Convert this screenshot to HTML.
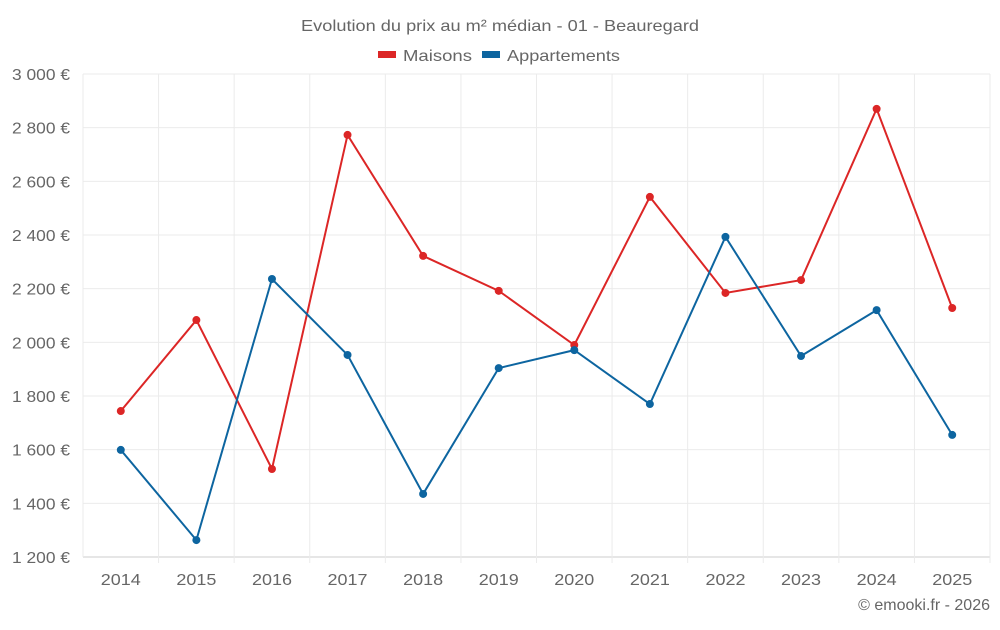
<!DOCTYPE html>
<html><head><meta charset="utf-8"><style>
body{margin:0;background:#fff;font-family:"Liberation Sans",sans-serif}
text{font-family:"Liberation Sans",sans-serif;fill:#666}
</style></head><body>
<svg id="c" width="1000" height="625">
<text x="301" y="31" font-size="16" textLength="398" lengthAdjust="spacingAndGlyphs">Evolution du prix au m² médian - 01 - Beauregard</text>
<g>
<rect x="378" y="51" width="18" height="7" fill="#dc2626"/>
<text x="403" y="61" font-size="16" textLength="69" lengthAdjust="spacingAndGlyphs">Maisons</text>
<rect x="482" y="51" width="18" height="7" fill="#0d65a0"/>
<text x="507" y="61" font-size="16" textLength="113" lengthAdjust="spacingAndGlyphs">Appartements</text>
</g>
<g id="grid"></g><g id="axes"></g><g id="series"></g>
<text x="990" y="610" text-anchor="end" font-size="16">© emooki.fr - 2026</text>
</svg>
<script>
const years=["2014","2015","2016","2017","2018","2019","2020","2021","2022","2023","2024","2025"];
const maisons=[1744,2083,1528,2773,2322,2192,1990,2542,2184,2232,2870,2128];
const appartements=[1599,1263,2236,1953,1435,1904,1971,1770,2393,1949,2120,1655];
const yTicks=[1200,1400,1600,1800,2000,2200,2400,2600,2800,3000];
const yTickLabels=["1 200 €","1 400 €","1 600 €","1 800 €","2 000 €","2 200 €","2 400 €","2 600 €","2 800 €","3 000 €"];
const L=83,R=990,T=74,B=557,NS="http://www.w3.org/2000/svg";
const bw=(R-L)/years.length;
const x=i=>L+bw*(i+0.5);
const y=v=>B-(v-1200)/(3000-1200)*(B-T);
function mk(tag,attrs,parent){const e=document.createElementNS(NS,tag);for(const k in attrs)e.setAttribute(k,attrs[k]);parent.appendChild(e);return e;}
const grid=document.getElementById('grid'),axes=document.getElementById('axes'),ser=document.getElementById('series');
yTicks.forEach((v,i)=>{
 const l=mk('line',{x1:L,x2:R,y1:y(v),y2:y(v),stroke:i==0?'#ccc':'#ebebeb'},grid);
 
 
 const t=mk('text',{x:12,y:y(v)+6,'font-size':16,textLength:58,lengthAdjust:'spacingAndGlyphs'},axes);
 t.textContent=yTickLabels[i];
 
 
});
for(let i=0;i<=years.length;i++){
 const l=mk('line',{x1:L+bw*i,x2:L+bw*i,y1:T,y2:B+(i==0?0:6),stroke:'#ebebeb'},grid);
 
 
}
years.forEach((yr,i)=>{
 const t=mk('text',{x:x(i)-20,y:585,'font-size':16,textLength:40,lengthAdjust:'spacingAndGlyphs'},axes);
 t.textContent=yr;
 
 
});
function draw(vals,col,name){
 const p=mk('polyline',{points:vals.map((v,i)=>x(i)+','+y(v)).join(' '),fill:'none',stroke:col,'stroke-width':2},ser);
 
 
 vals.forEach((v,i)=>{
  const c=mk('circle',{cx:x(i),cy:y(v),r:4,fill:col},ser);
  
  
 });
}
draw(maisons,'#dc2626','maisons');
draw(appartements,'#0d65a0','appartements');
</script>
</body></html>
